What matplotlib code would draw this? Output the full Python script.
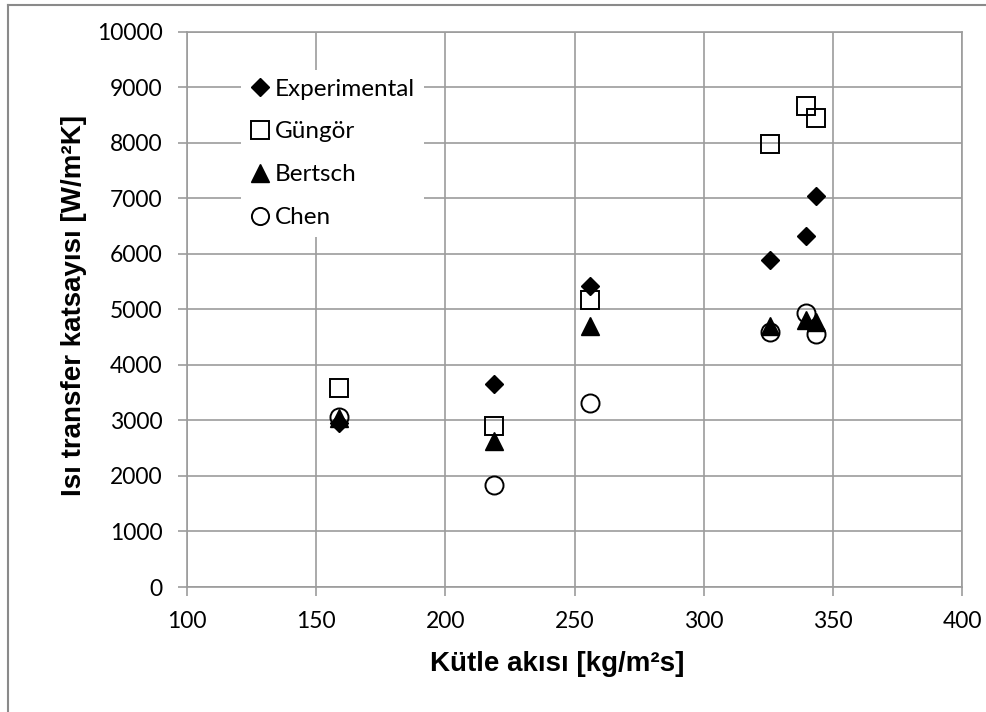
import matplotlib
matplotlib.use("Agg")
import matplotlib.pyplot as plt
from matplotlib.lines import Line2D

# mass flux values per series (kg/m2s) and heat transfer coefficients (W/m2K)
exp_x = [159, 219, 256, 325.7, 339.5, 343.5]
exp_y = [2960, 3650, 5410, 5890, 6320, 7030]

gun_x = [159, 219, 256, 325.7, 339.5, 343.5]
gun_y = [3580, 2890, 5160, 7980, 8650, 8450]

ber_x = [159, 219, 256, 325.7, 339.5, 343.5]
ber_y = [3040, 2630, 4700, 4690, 4800, 4770]

che_x = [159, 219, 256, 325.7, 339.5, 343.5]
che_y = [3060, 1840, 3310, 4590, 4940, 4560]

xticks = [100, 150, 200, 250, 300, 350, 400]
yticks = [0, 1000, 2000, 3000, 4000, 5000, 6000, 7000, 8000, 9000, 10000]

grid_c = "#9c9c9c"
tick_font = "Lato"
label_font = "Liberation Sans"

fig = plt.figure(figsize=(9.86, 7.12), dpi=100)
ax = fig.add_axes([187/986, 1 - 587/712, 775/986, 555.5/712])

ax.plot(exp_x, exp_y, linestyle="none", marker="D", ms=9.5, color="black",
        label="Experimental", zorder=3)
ax.plot(gun_x, gun_y, linestyle="none", marker="s", ms=13, mfc="none",
        mec="black", mew=1.4, label="Güngör", zorder=3)
ax.plot(ber_x, ber_y, linestyle="none", marker="^", ms=13, color="black",
        label="Bertsch", zorder=3)
ax.plot(che_x, che_y, linestyle="none", marker="o", ms=13, mfc="none",
        mec="black", mew=1.4, label="Chen", zorder=3)

ax.set_xlim(100, 400)
ax.set_ylim(0, 10000)
ax.set_xticks(xticks)
ax.set_yticks(yticks)
ax.grid(True, color=grid_c, linewidth=1.2)
ax.set_axisbelow(True)
for s in ax.spines.values():
    s.set_color(grid_c)
    s.set_linewidth(1.2)
ax.tick_params(direction="out", length=6.5, width=1.2, color=grid_c,
               labelsize=16.5, pad=11)
for lab in ax.get_xticklabels() + ax.get_yticklabels():
    lab.set_fontfamily(tick_font)

fig.text(557/986, 1 - 664/712, "Kütle akısı [kg/m²s]", ha="center", va="center",
         fontsize=20, fontweight="bold", family=label_font)
fig.text(74/986, 1 - 306/712, "Isı transfer katsayısı [W/m²K]", ha="center",
         va="center", rotation=90, fontsize=20, fontweight="bold", family=label_font)

leg = ax.legend(loc="upper left", bbox_to_anchor=((241 - 187)/775, (587 - 70)/555.5),
                borderaxespad=0, frameon=True, fancybox=False, framealpha=1,
                edgecolor="none", facecolor="white", markerscale=0.95,
                handlelength=0.9, handletextpad=0.15, labelspacing=0.9,
                borderpad=0.35, prop={"family": tick_font, "size": 17.5})

# outer chart border (left and top edges are visible in the picture)
fig.add_artist(Line2D([8/986, 8/986], [0, 1 - 5/712], transform=fig.transFigure,
                      color="#8a8a8a", linewidth=1.5))
fig.add_artist(Line2D([8/986, 1], [1 - 5/712, 1 - 5/712], transform=fig.transFigure,
                      color="#8a8a8a", linewidth=1.5))

fig.savefig("out.png", dpi=100, facecolor="white")
